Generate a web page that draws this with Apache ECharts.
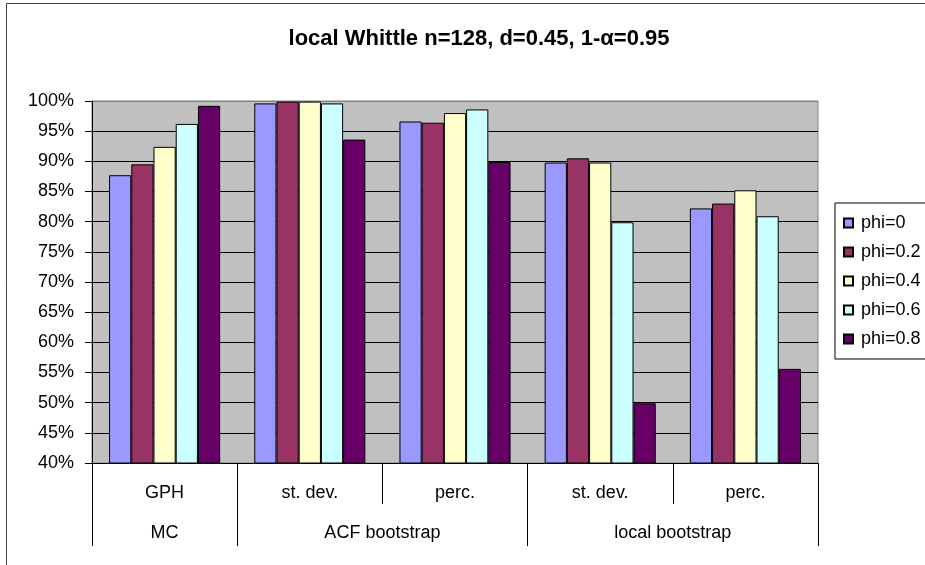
<!DOCTYPE html>
<html>
<head>
<meta charset="utf-8">
<script src="https://cdn.jsdelivr.net/npm/echarts@6/dist/echarts.min.js"></script>
<style>
  html, body { margin: 0; padding: 0; background: #fff; }
  #chart { width: 925px; height: 565px; }
</style>
</head>
<body>
<div id="chart"></div>
<script>
// Coverage of local Whittle confidence intervals by method
const methods = ['GPH', 'st. dev.', 'perc.', 'st. dev.', 'perc.'];
const groups = ['MC', 'ACF bootstrap', 'local bootstrap'];
const groupSpan = [1, 2, 2];
const seriesNames = ['phi=0', 'phi=0.2', 'phi=0.4', 'phi=0.6', 'phi=0.8'];
const phi00 = [87.7, 99.6, 96.6, 89.8, 82.2];
const phi02 = [89.5, 99.9, 96.4, 90.5, 83.0];
const phi04 = [92.4, 99.9, 98.0, 89.8, 85.2];
const phi06 = [96.2, 99.6, 98.6, 79.9, 80.9];
const phi08 = [99.2, 93.6, 89.9, 49.9, 55.6];
const colors = ['#9999FF', '#993366', '#FFFFCC', '#CCFFFF', '#660066'];

const FONT = 'Liberation Sans, Arial, sans-serif';
const values = [phi00, phi02, phi04, phi06, phi08];

// Group axis on a half-category grid: labels at group centres, ticks at group edges
const halfSteps = methods.length * 2 + 1;
const groupLabelAt = {};
const groupEdges = [];
let start = 0;
groups.forEach((g, i) => {
  groupEdges.push(start * 2);
  groupLabelAt[start * 2 + groupSpan[i]] = g;
  start += groupSpan[i];
});
groupEdges.push(start * 2);
const halfCats = Array.from({ length: halfSteps }, (_, i) => 'h' + i);

const chart = echarts.init(document.getElementById('chart'), null, { renderer: 'canvas' });

chart.setOption({
  backgroundColor: '#ffffff',
  animation: false,
  title: {
    text: 'local Whittle n=128, d=0.45, 1-\u03b1=0.95',
    left: 474,
    textAlign: 'center',
    top: 23,
    textStyle: { fontFamily: FONT, fontSize: 22, fontWeight: 'bold', color: '#000' }
  },
  legend: {
    orient: 'vertical',
    left: 835,
    top: 203,
    icon: 'rect',
    itemWidth: 9,
    itemHeight: 9,
    itemGap: 11,
    padding: [11, 40, 11, 8],
    borderColor: '#000',
    borderWidth: 1,
    backgroundColor: '#fff',
    textStyle: { fontFamily: FONT, fontSize: 18, color: '#000', padding: [0, 0, 0, 3] },
    data: seriesNames
  },
  grid: {
    left: 92, right: 107, top: 101, bottom: 102,
    show: true,
    backgroundColor: '#C0C0C0',
    borderColor: '#808080',
    borderWidth: 1
  },
  xAxis: [
    {
      type: 'category',
      data: methods,
      position: 'bottom',
      axisLine: { show: true, lineStyle: { color: '#000', width: 1 } },
      axisTick: { show: true, length: 41, interval: 0, lineStyle: { color: '#000', width: 1 } },
      axisLabel: { interval: 0, margin: 21, fontFamily: FONT, fontSize: 18, color: '#000' },
      splitLine: { show: false }
    },
    {
      type: 'category',
      data: halfCats,
      position: 'bottom',
      boundaryGap: false,
      axisLine: { show: false },
      axisTick: {
        show: true, length: 83,
        interval: (i) => groupEdges.indexOf(i) >= 0,
        lineStyle: { color: '#000', width: 1 }
      },
      axisLabel: {
        interval: (i) => groupLabelAt[i] !== undefined,
        formatter: (v, i) => groupLabelAt[i] || '',
        margin: 61, fontFamily: FONT, fontSize: 18, color: '#000'
      },
      splitLine: { show: false }
    }
  ],
  yAxis: {
    type: 'value',
    min: 40,
    max: 100,
    interval: 5,
    axisLine: { show: true, lineStyle: { color: '#000', width: 1 } },
    axisTick: { show: true, length: 7, lineStyle: { color: '#000', width: 1 } },
    axisLabel: { formatter: '{value}%', margin: 18, fontFamily: FONT, fontSize: 18, color: '#000' },
    splitLine: {
      show: true,
      lineStyle: {
        color: ['#000', '#000', '#000', '#000', '#000', '#000', '#000', '#000', '#000', '#000', '#000', '#000', '#808080'],
        width: 1
      }
    }
  },
  series: seriesNames.map((name, k) => ({
    name: name,
    type: 'bar',
    xAxisIndex: 0,
    barGap: '0%',
    barCategoryGap: '23.5%',
    itemStyle: { color: colors[k], borderColor: '#000', borderWidth: 1 },
    data: values[k]
  })),
  graphic: [{
    type: 'rect',
    silent: true,
    z: -10,
    shape: { x: 6.5, y: 3.5, width: 1000, height: 700 },
    style: { fill: 'none', stroke: '#404040', lineWidth: 1 }
  }]
});
</script>
</body>
</html>
